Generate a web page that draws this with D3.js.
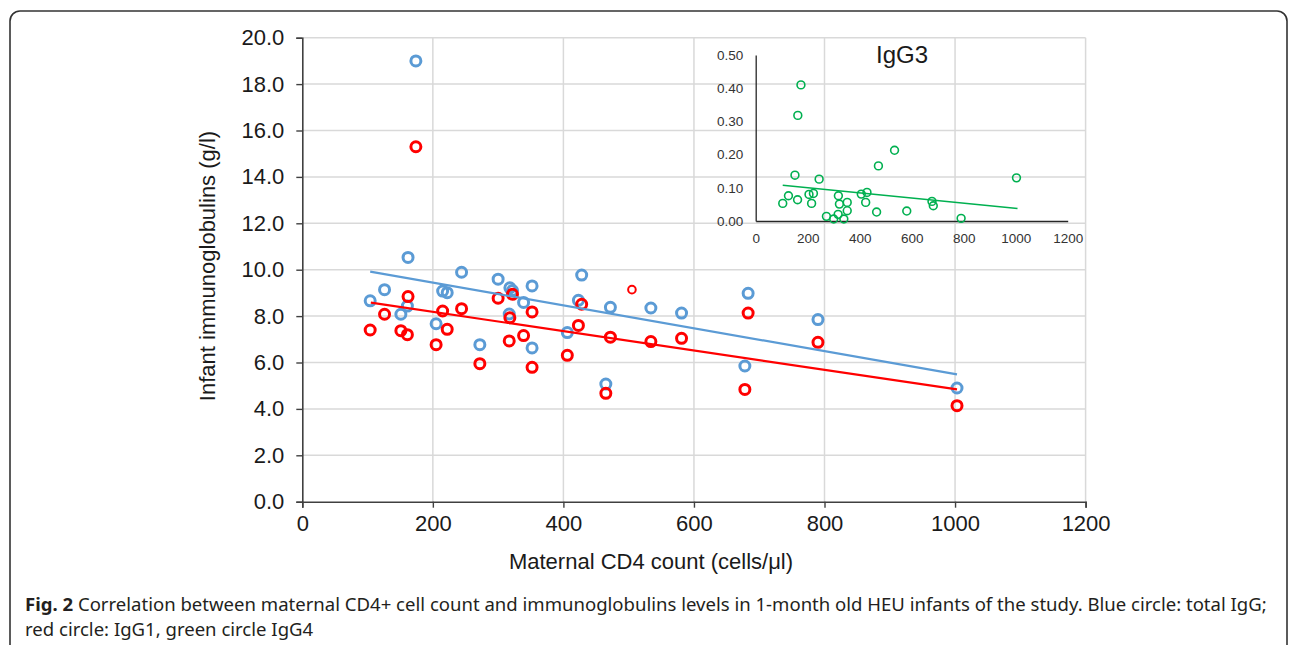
<!DOCTYPE html>
<html>
<head>
<meta charset="utf-8">
<script src="https://cdn.jsdelivr.net/npm/d3@7"></script>
<style>
  body { margin: 0; background: #fff; }
  svg { display: block; }
</style>
</head>
<body>
<script>
// maternal CD4 count of each mother/infant pair
var cd4 = [104, 126, 151, 161, 162, 174, 205, 215, 222, 244, 272, 300, 317, 318, 322, 339,
           352, 352, 406, 423, 428, 465, 472, 534, 581, 678, 683, 790, 1003];
// total IgG (blue)
var igg = [8.66, 9.14, 8.08, 8.43, 10.53, 19.0, 7.67, 9.08, 9.01, 9.89, 6.77, 9.59, 8.09, 9.22, 9.10, 8.59,
           9.30, 6.63, 7.29, 8.68, 9.77, 5.07, 8.38, 8.35, 8.13, 5.85, 8.98, 7.85, 4.90];
// IgG1 (red)
var igg1 = [7.40, 8.08, 7.37, 7.20, 8.84, 15.3, 6.77, 8.22, 7.43, 8.32, 5.95, 8.77, 6.93, 7.93, 8.94, 7.16,
            8.18, 5.79, 6.31, 7.60, 8.51, 4.67, 7.09, 6.90, 7.04, 4.84, 8.13, 6.87, 4.14];
// IgG3 (green, inset)
var igg3 = [0.053, 0.076, 0.138, 0.064, 0.318, 0.41, 0.080, 0.053, 0.083, 0.126, 0.014, 0.006, 0.020, 0.076, 0.051, 0.006,
            0.056, 0.031, 0.081, 0.056, 0.086, 0.027, 0.166, 0.213, 0.030, 0.059, 0.046, 0.008, 0.130];
// single small red marker
var extraRed = [[505, 9.14]];

// trend lines, end points
var trendIgg = [[104, 9.92], [1003, 5.49]];
var trendIgg1 = [[105, 8.58], [1003, 4.84]];
var trendIgg3 = [[104, 0.108], [1007, 0.038]];

var xTicks = [0, 200, 400, 600, 800, 1000, 1200];
var yTicks = [0, 2, 4, 6, 8, 10, 12, 14, 16, 18, 20];
var insetYTicks = [0, 0.1, 0.2, 0.3, 0.4, 0.5];

var caption1 = "Correlation between maternal CD4+ cell count and immunoglobulins levels in 1-month old HEU infants of the study. Blue circle: total IgG;";
var caption2 = "red circle: IgG1, green circle IgG4";

var w = 1292, h = 645;
var svg = d3.select("body").append("svg").attr("width", w).attr("height", h);

var blue = "#5b9bd5", red = "#ff0000", green = "#00b050", grid = "#d9d9d9";
var font = "'Liberation Sans', Arial, sans-serif";

// frame
svg.append("rect")
  .attr("x", 10).attr("y", 11).attr("width", 1277).attr("height", 700)
  .attr("rx", 10).attr("fill", "none").attr("stroke", "#333").attr("stroke-width", 1.6);

var x = d3.scaleLinear().domain([0, 1200]).range([302.3, 1085.6]);
var y = d3.scaleLinear().domain([0, 20]).range([501.7, 37.7]);

// gridlines
var gg = svg.append("g");
gg.selectAll("line.h").data(yTicks.slice(1)).enter().append("line")
  .attr("x1", x(0)).attr("x2", x(1200))
  .attr("y1", function(d){ return y(d); }).attr("y2", function(d){ return y(d); })
  .attr("stroke", grid).attr("stroke-width", 1.5);
gg.selectAll("line.v").data(xTicks.slice(1)).enter().append("line")
  .attr("x1", function(d){ return x(d); }).attr("x2", function(d){ return x(d); })
  .attr("y1", y(0)).attr("y2", y(20))
  .attr("stroke", grid).attr("stroke-width", 1.5);

// axes
var yAxis = svg.append("g").attr("transform", "translate(" + x(0) + ",0)")
  .call(d3.axisLeft(y).tickValues(yTicks).tickSize(6).tickPadding(12).tickFormat(d3.format(".1f")));
var xAxis = svg.append("g").attr("transform", "translate(0," + y(0) + ")")
  .call(d3.axisBottom(x).tickValues(xTicks).tickSize(6).tickPadding(8).tickFormat(d3.format("d")));
[xAxis, yAxis].forEach(function(a){
  a.select(".domain").attr("stroke", "#404040").attr("stroke-width", 1.6);
  a.selectAll(".tick line").attr("stroke", "#404040").attr("stroke-width", 1.4);
  a.selectAll("text").attr("font-family", font).attr("font-size", 22).attr("fill", "#1a1a1a");
});

svg.append("text").attr("x", 651).attr("y", 569).attr("text-anchor", "middle")
  .attr("font-family", font).attr("font-size", 22).attr("fill", "#1a1a1a")
  .text("Maternal CD4 count (cells/\u03bcl)");
svg.append("text").attr("transform", "translate(215,266) rotate(-90)").attr("text-anchor", "middle")
  .attr("font-family", font).attr("font-size", 22).attr("fill", "#1a1a1a")
  .text("Infant immunoglobulins (g/l)");

// points
var line = d3.line().x(function(d){ return x(d[0]); }).y(function(d){ return y(d[1]); });

svg.append("g").selectAll("circle").data(cd4).enter().append("circle")
  .attr("cx", function(d){ return x(d); })
  .attr("cy", function(d, i){ return y(igg[i]); })
  .attr("r", 5).attr("fill", "none").attr("stroke", blue).attr("stroke-width", 3);
svg.append("g").selectAll("circle").data(cd4).enter().append("circle")
  .attr("cx", function(d){ return x(d); })
  .attr("cy", function(d, i){ return y(igg1[i]); })
  .attr("r", 5).attr("fill", "none").attr("stroke", red).attr("stroke-width", 3);
svg.append("g").selectAll("circle").data(extraRed).enter().append("circle")
  .attr("cx", function(d){ return x(d[0]); })
  .attr("cy", function(d){ return y(d[1]); })
  .attr("r", 3.8).attr("fill", "none").attr("stroke", red).attr("stroke-width", 2);

svg.append("path").datum(trendIgg).attr("d", line).attr("fill", "none").attr("stroke", blue).attr("stroke-width", 2.2);
svg.append("path").datum(trendIgg1).attr("d", line).attr("fill", "none").attr("stroke", red).attr("stroke-width", 2.2);

// inset IgG3
var ix = d3.scaleLinear().domain([0, 1200]).range([755.7, 1067.7]);
var iy = d3.scaleLinear().domain([0, 0.5]).range([221, 55]);
var inset = svg.append("g");
var iyAxis = inset.append("g").attr("transform", "translate(" + ix(0) + ",0)")
  .call(d3.axisLeft(iy).tickValues(insetYTicks).tickSize(0).tickPadding(12.5).tickFormat(d3.format(".2f")));
var ixAxis = inset.append("g").attr("transform", "translate(0," + iy(0) + ")")
  .call(d3.axisBottom(ix).tickValues(xTicks).tickSize(0).tickPadding(12).tickFormat(d3.format("d")));
[iyAxis, ixAxis].forEach(function(a){
  a.select(".domain").attr("stroke", "#262626").attr("stroke-width", 1.3);
  a.selectAll("text").attr("font-family", font).attr("font-size", 13.5).attr("fill", "#333");
});
inset.append("text").attr("x", 902).attr("y", 63).attr("text-anchor", "middle")
  .attr("font-family", font).attr("font-size", 24).attr("fill", "#1a1a1a").text("IgG3");
inset.append("g").selectAll("circle").data(cd4).enter().append("circle")
  .attr("cx", function(d){ return ix(d); })
  .attr("cy", function(d, i){ return iy(igg3[i]); })
  .attr("r", 3.9).attr("fill", "none").attr("stroke", green).attr("stroke-width", 1.6);
inset.append("path").datum(trendIgg3)
  .attr("d", d3.line().x(function(d){ return ix(d[0]); }).y(function(d){ return iy(d[1]); }))
  .attr("fill", "none").attr("stroke", green).attr("stroke-width", 1.5);

// caption
var cap = svg.append("g").attr("font-family", "'Noto Sans', 'Open Sans', sans-serif").attr("fill", "#231f20");
var t1 = cap.append("text").attr("x", 25).attr("y", 611).attr("font-size", 16);
t1.append("tspan").attr("font-weight", "bold").text("Fig. 2");
t1.append("tspan").text(" " + caption1);
var fs = 16 * 1243 / t1.node().getComputedTextLength();
t1.attr("font-size", fs);
cap.append("text").attr("x", 25).attr("y", 636).attr("font-size", fs).text(caption2);
</script>
</body>
</html>
